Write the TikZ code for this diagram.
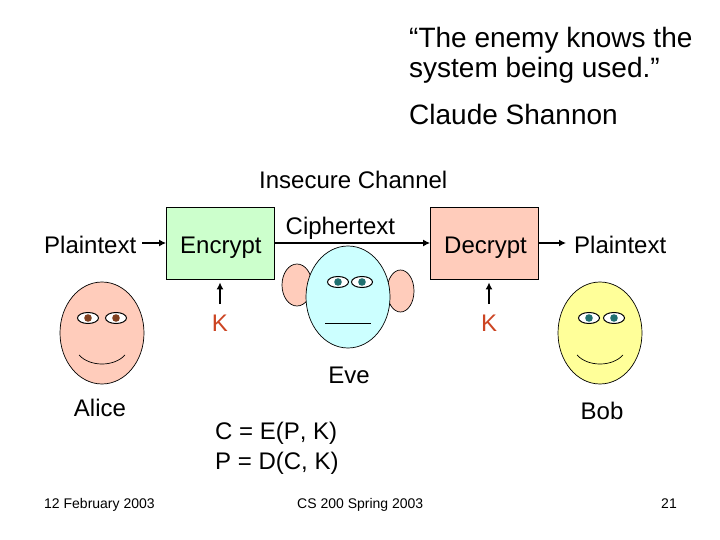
\documentclass[tikz,border=0pt]{standalone}
\usepackage{fontspec}
\setmainfont{Liberation Sans}
\usetikzlibrary{arrows.meta}
\definecolor{alicepink}{RGB}{255,204,187}
\definecolor{evecyan}{RGB}{204,255,255}
\definecolor{bobyellow}{RGB}{255,255,153}
\definecolor{boxgreen}{RGB}{204,255,204}
\definecolor{keyred}{RGB}{204,68,34}
\definecolor{pupilbrown}{RGB}{128,64,32}
\definecolor{pupilteal}{RGB}{32,112,112}
\tikzset{
  label/.style={inner sep=0pt, anchor=base west, font=\fontsize{24}{28}\selectfont},
  center label/.style={label, anchor=base},
  big label/.style={label, font=\fontsize{28}{30}\selectfont},
  small label/.style={label, font=\fontsize{14}{16}\selectfont},
  key label/.style={center label, text=keyred},
  box/.style={draw=black, line width=0.8pt, minimum width=108pt, minimum height=72pt, inner sep=0pt},
  flow/.style={black, line width=1.9pt, -{Latex[length=7pt,width=7pt]}},
  face/.style={draw=black, line width=0.7pt},
}
% one eye of a face: white part and pupil
\newcommand{\faceeye}[3]{
  \filldraw[draw=black, line width=1pt, fill=white] (#1,#2) ellipse (10.5 and 5.5);
  \fill[#3] (#1,#2) circle (3.8);
}
\begin{document}
\begin{tikzpicture}[x=1pt, y=-1pt]
  \useasboundingbox[fill=white] (0,0) rectangle (720,540);
  % quote
  \node[big label] (quoteA) at (409,48) {“The enemy knows the};
  \node[big label] (quoteB) at (409,78) {system being used.”};
  \node[big label] (shannon) at (409,125) {Claude Shannon};
  \node[label] (channel) at (259,189) {Insecure Channel};
  % boxes
  \node[box, fill=boxgreen] (encrypt) at (220.5,243) {};
  \node[box, fill=alicepink] (decrypt) at (484.5,243) {};
  \node[label] (encryptText) at (180,253) {Encrypt};
  \node[label] (decryptText) at (444,253) {Decrypt};
  \node[label] (ciphertext) at (285.5,234) {Ciphertext};
  \node[label] (plainA) at (44,253) {Plaintext};
  \node[label] (plainB) at (574,253) {Plaintext};
  \node[key label] (keyA) at (220,331) {K};
  \node[key label] (keyB) at (489,331) {K};
  % arrows
  \coordinate (plainOut) at (142,243);
  \coordinate (decryptOut) at (566,243);
  \coordinate (keyTipA) at (220,304);
  \coordinate (keyTipB) at (489,304);
  \draw[flow] (plainOut) -- (encrypt.west);
  \draw[flow] (encrypt.east) -- (decrypt.west);
  \draw[flow] (decrypt.east) -- (decryptOut);
  \draw[flow, shorten >=3pt] (keyTipA) -- (encrypt.south -| keyTipA);
  \draw[flow, shorten >=3pt] (keyTipB) -- (decrypt.south -| keyTipB);
  % alice
  \filldraw[face, fill=alicepink] (102,333) ellipse (42 and 51);
  \faceeye{88}{318}{pupilbrown}
  \faceeye{116}{318}{pupilbrown}
  \draw[face] (79,355) .. controls (90,367) and (114,367) .. (125,355);
  % eve
  \filldraw[face, fill=alicepink, draw=black] (297,285) ellipse (15 and 21);
  \filldraw[face, fill=alicepink, draw=black] (400.5,291) ellipse (13.5 and 21);
  \filldraw[face, fill=evecyan] (348,297) ellipse (42 and 51);
  \faceeye{338}{282}{pupilteal}
  \faceeye{362}{282}{pupilteal}
  \draw[face] (325,323) -- (371,323);
  % bob
  \filldraw[face, fill=bobyellow] (600,333) ellipse (42 and 51);
  \faceeye{589}{318}{pupilteal}
  \faceeye{614}{318}{pupilteal}
  \draw[face] (577,355) .. controls (588,367) and (612,367) .. (623,355);
  % names and equations
  \node[center label] (alice) at (100,416) {Alice};
  \node[center label] (eve) at (349,383) {Eve};
  \node[center label] (bob) at (602,419) {Bob};
  \node[label] (eqA) at (215,439) {C = E(P\kern0pt, K)};
  \node[label] (eqB) at (215,469) {P = D(C, K)};
  % footer
  \node[small label] (date) at (44,508) {12 February 2003};
  \node[small label] (course) at (297,508) {CS 200 Spring 2003};
  \node[small label, anchor=base east] (page) at (677,508) {21};
\end{tikzpicture}
\end{document}
